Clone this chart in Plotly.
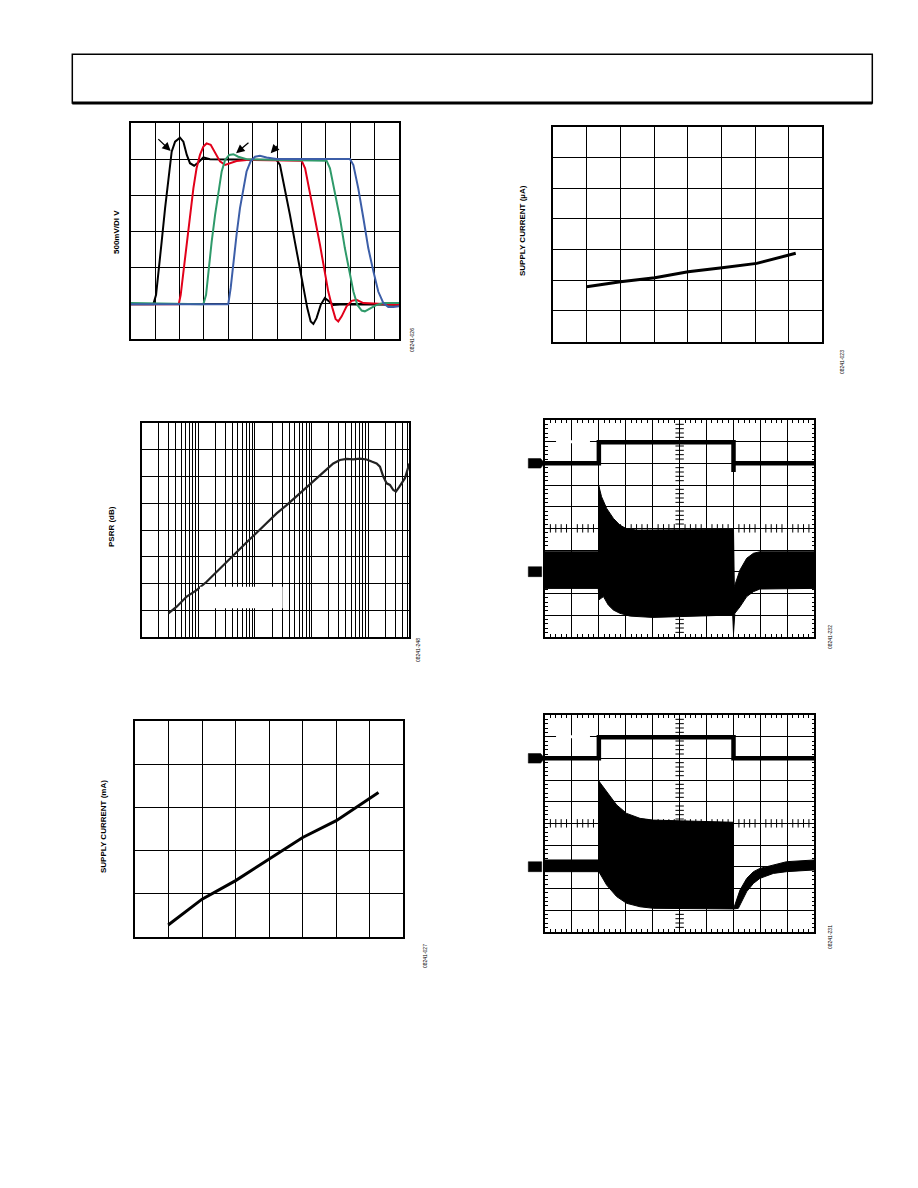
import numpy as np
import plotly.graph_objects as go

W, H = 918, 1188

# ---------------- Panel 1: large-signal pulse response (grid units: 11 x 6 div) ----------
p1_black_x = [0, 0.93, 1.04, 1.13, 1.27, 1.41, 1.54, 1.68, 1.82, 2.02, 2.16, 2.30, 2.43, 2.60, 2.77, 2.98, 3.25,
              5.98, 6.12, 6.32, 6.53, 6.73, 6.94, 7.10, 7.24, 7.38, 7.49, 7.62, 7.79, 7.96, 8.14, 8.31, 8.72, 11]
p1_black_y = [0.97, 0.97, 1.23, 1.88, 2.71, 3.64, 4.47, 5.21, 5.49, 5.60, 5.49, 5.12, 4.89, 4.82, 4.91, 5.05, 5.00,
              4.98, 4.84, 4.19, 3.45, 2.71, 1.97, 1.42, 0.86, 0.49, 0.42, 0.58, 0.95, 1.14, 1.05, 0.95, 0.97, 0.95]
p1_red_x = [0, 1.97, 2.05, 2.16, 2.30, 2.43, 2.57, 2.70, 2.84, 2.98, 3.11, 3.28, 3.46, 3.66, 3.87, 4.07, 4.34, 4.75,
            7.01, 7.15, 7.35, 7.55, 7.76, 7.92, 8.10, 8.27, 8.40, 8.51, 8.65, 8.85, 9.06, 9.26, 9.54, 11]
p1_red_y = [0.97, 0.97, 1.23, 1.88, 2.71, 3.45, 4.19, 4.75, 5.12, 5.35, 5.44, 5.40, 5.17, 4.94, 4.84, 4.89, 4.95, 4.98,
            4.96, 4.75, 4.10, 3.36, 2.62, 1.97, 1.32, 0.86, 0.56, 0.49, 0.63, 0.91, 1.06, 1.09, 1.00, 0.95]
p1_green_x = [0, 2.98, 3.09, 3.18, 3.32, 3.46, 3.59, 3.73, 3.87, 4.04, 4.21, 4.41, 4.75,
              8.03, 8.17, 8.37, 8.58, 8.78, 8.96, 9.13, 9.29, 9.47, 9.60, 9.81, 10.08, 10.36, 11]
p1_green_y = [1.00, 0.97, 1.23, 1.88, 2.71, 3.45, 4.10, 4.66, 4.98, 5.12, 5.14, 5.07, 5.00,
              4.96, 4.75, 4.10, 3.36, 2.53, 1.88, 1.32, 0.95, 0.79, 0.77, 0.84, 0.95, 1.00, 1.00]
p1_blue_x = [0, 4.00, 4.10, 4.21, 4.34, 4.48, 4.62, 4.75, 4.92, 5.10, 5.30, 5.57, 5.98,
             8.99, 9.13, 9.33, 9.54, 9.74, 9.95, 10.15, 10.36, 10.56, 10.77, 11]
p1_blue_y = [0.97, 0.97, 1.42, 2.16, 2.90, 3.64, 4.19, 4.66, 4.95, 5.07, 5.10, 5.05, 5.01,
             5.01, 4.84, 4.19, 3.36, 2.53, 1.88, 1.32, 1.00, 0.89, 0.89, 0.91]
# arrows: (tail x, tail y, head x, head y)
p1_arrows = [(1.07, 5.60, 1.64, 5.23), (4.89, 5.49, 4.32, 5.17), (6.08, 5.42, 5.74, 5.17)]

# ---------------- Panel 2: supply current (uA) (8 x 7 div) ----------
p2_x = [0.99, 2.00, 3.02, 4.01, 5.02, 6.05, 7.21]
p2_y = [1.79, 1.95, 2.08, 2.28, 2.41, 2.55, 2.88]

# ---------------- Panel 3: PSRR (dB) vs frequency (Hz) ----------
p3_freq = [29.6, 41.5, 62.2, 93.3, 140, 211, 316, 474, 713, 1070, 1607, 2410, 3620, 5430, 8160, 12250,
           18400, 24100, 31600, 41500, 54300, 71300, 93500, 114600, 140300, 160700, 184000, 210900,
           241100, 276300, 307700, 347500, 387300, 443600, 529700]
p3_psrr = [8.9, 11.4, 15.2, 17.6, 20.7, 24.5, 28.2, 31.9, 35.4, 39.0, 42.5, 46.2, 49.3, 52.7, 56.1, 59.3,
           62.6, 64.8, 66.1, 66.5, 66.3, 66.6, 66.3, 65.5, 64.8, 63.6, 59.9, 57.4,
           56.8, 54.9, 54.3, 55.9, 57.6, 59.3, 64.8]

# ---------------- Panel 4: scope capture (10 x 10 div) ----------
p4_ctrl_x = [0, 2.0, 2.0, 7.0, 7.0, 7.0, 10]
p4_ctrl_y = [8.0, 8.0, 8.97, 8.97, 7.6, 8.0, 8.0]
p4_up_x = [0, 2.0, 2.0, 2.10, 2.29, 2.54, 2.78, 3.0, 3.4, 7.0, 7.03, 7.24, 7.49, 7.74, 7.98, 10]
p4_up_y = [3.92, 3.92, 6.95, 6.46, 5.92, 5.46, 5.15, 5.0, 4.92, 4.95, 2.31, 3.08, 3.62, 3.85, 3.92, 3.92]
p4_lo_x = [0, 1.98, 2.0, 2.17, 2.35, 2.54, 2.78, 3.16, 4.0, 6.97, 7.0, 7.05, 7.24, 7.49, 7.74, 7.98, 10]
p4_lo_y = [2.23, 2.23, 1.70, 1.85, 1.46, 1.23, 1.08, 0.95, 0.89, 1.0, 0.15, 1.08, 1.38, 1.85, 2.08, 2.20, 2.23]

# ---------------- Panel 5: supply current (mA) (8 x 5 div) ----------
p5_x = [0.99, 2.00, 3.00, 4.00, 5.00, 6.00, 6.60, 7.26]
p5_y = [0.27, 0.87, 1.30, 1.79, 2.30, 2.69, 3.00, 3.34]

# ---------------- Panel 6: scope capture (10 x 10 div) ----------
p6_ctrl_x = [0, 2.0, 2.0, 7.0, 7.0, 10]
p6_ctrl_y = [8.0, 8.0, 8.97, 8.97, 8.0, 8.0]
p6_up_x = [0, 2.0, 2.0, 2.29, 2.66, 3.03, 3.53, 4.02, 7.0, 7.0, 7.24, 7.49, 7.74, 7.98, 8.48, 8.97, 10]
p6_up_y = [3.31, 3.31, 6.95, 6.46, 5.85, 5.46, 5.23, 5.15, 5.05, 1.05, 1.92, 2.46, 2.77, 2.92, 3.08, 3.23, 3.31]
p6_lo_x = [0, 2.0, 2.29, 2.66, 3.03, 3.53, 4.02, 7.0, 7.18, 7.49, 7.74, 7.98, 8.48, 8.97, 10]
p6_lo_y = [2.77, 2.77, 2.15, 1.62, 1.31, 1.15, 1.08, 1.05, 1.08, 1.85, 2.23, 2.46, 2.69, 2.77, 2.85]

# text
p1_ylabel = "500mV/DI V"
p2_ylabel = "SUPPLY CURRENT (µA)"
p3_ylabel = "PSRR (dB)"
p5_ylabel = "SUPPLY CURRENT (mA)"
codes = ["08241-026", "08241-023", "08241-248", "08241-232", "08241-027", "08241-231"]

# ---------------- layout helpers ----------
def dx(a, b):
    return [a / W, b / W]

def dy(top, bottom):
    return [1 - bottom / H, 1 - top / H]

boxes = {
    1: (130.7, 123.3, 399.0, 339.0),
    2: (553.3, 126.7, 822.3, 341.7),
    3: (141.7, 422.7, 409.3, 637.3),
    4: (545.0, 420.0, 814.3, 636.7),
    5: (135.0, 721.0, 403.3, 936.7),
    6: (545.0, 715.0, 814.3, 931.7),
}
ranges = {
    1: ([0, 11], [0, 6], 1, 1),
    2: ([0, 8], [0, 7], 1, 1),
    3: ([1, 5.724], [0, 80], "D1", 10),
    4: ([0, 10], [0, 10], 1, 1),
    5: ([0, 8], [0, 5], 1, 1),
    6: ([0, 10], [0, 10], 1, 1),
}

fig = go.Figure()
layout = dict(width=W, height=H, autosize=False, margin=dict(l=0, r=0, t=0, b=0),
              paper_bgcolor="white", plot_bgcolor="white", showlegend=False,
              font=dict(family="Liberation Sans, Arial, sans-serif", color="black"))

for i, (x0, y0, x1, y1) in boxes.items():
    xr, yr, xdt, ydt = ranges[i]
    sfx = "" if i == 1 else str(i)
    scope = i in (4, 6)
    xa = dict(domain=dx(x0, x1), range=xr, dtick=xdt, tick0=0, showgrid=True, gridcolor="black", gridwidth=1,
              showline=True, linecolor="black", linewidth=1.5, mirror="allticks" if scope else True,
              zeroline=False, showticklabels=False, anchor="y" + sfx, fixedrange=True,
              ticks="inside" if scope else "", ticklen=4, tickcolor="black")
    ya = dict(domain=dy(y0, y1), range=yr, dtick=ydt, tick0=0, showgrid=True, gridcolor="black", gridwidth=1,
              showline=True, linecolor="black", linewidth=1.5, mirror="allticks" if scope else True,
              zeroline=False, showticklabels=False, anchor="x" + sfx, fixedrange=True,
              ticks="inside" if scope else "", ticklen=4, tickcolor="black")
    if i == 3:
        xa["type"] = "log"
    if scope:
        xa["minor"] = dict(dtick=0.2, tick0=0, ticks="inside", ticklen=3, tickcolor="black", showgrid=False)
        ya["minor"] = dict(dtick=0.2, tick0=0, ticks="inside", ticklen=3, tickcolor="black", showgrid=False)
    layout["xaxis" + sfx] = xa
    layout["yaxis" + sfx] = ya

# ---------------- traces ----------
for xs, ys, col in [(p1_black_x, p1_black_y, "#000000"), (p1_red_x, p1_red_y, "#e2001a"),
                    (p1_green_x, p1_green_y, "#2f9a6a"), (p1_blue_x, p1_blue_y, "#3c5ea8")]:
    fig.add_trace(go.Scatter(x=xs, y=ys, mode="lines", line=dict(color=col, width=2), xaxis="x", yaxis="y"))

fig.add_trace(go.Scatter(x=p2_x, y=p2_y, mode="lines", line=dict(color="black", width=3), xaxis="x2", yaxis="y2"))
fig.add_trace(go.Scatter(x=p3_freq, y=p3_psrr, mode="lines", line=dict(color="#222222", width=2.2),
                         xaxis="x3", yaxis="y3"))
fig.add_trace(go.Scatter(x=p5_x, y=p5_y, mode="lines", line=dict(color="black", width=3), xaxis="x5", yaxis="y5"))

minor_pos = [v for v in np.arange(0.2, 10, 0.2) if abs(v - round(v)) > 0.05]
for sfx, upx, upy, lox, loy, cx, cy in [("4", p4_up_x, p4_up_y, p4_lo_x, p4_lo_y, p4_ctrl_x, p4_ctrl_y),
                                         ("6", p6_up_x, p6_up_y, p6_lo_x, p6_lo_y, p6_ctrl_x, p6_ctrl_y)]:
    # center-line graticule ticks
    fig.add_trace(go.Scatter(x=[5] * len(minor_pos), y=minor_pos, mode="markers",
                             marker=dict(symbol="line-ew", size=6, line=dict(color="black", width=1)),
                             xaxis="x" + sfx, yaxis="y" + sfx))
    fig.add_trace(go.Scatter(x=minor_pos, y=[5] * len(minor_pos), mode="markers",
                             marker=dict(symbol="line-ns", size=6, line=dict(color="black", width=1)),
                             xaxis="x" + sfx, yaxis="y" + sfx))
    fig.add_trace(go.Scatter(x=list(upx) + list(lox)[::-1], y=list(upy) + list(loy)[::-1], mode="lines",
                             fill="toself", fillcolor="black", line=dict(color="black", width=1),
                             xaxis="x" + sfx, yaxis="y" + sfx))
    fig.add_trace(go.Scatter(x=cx, y=cy, mode="lines", line=dict(color="black", width=4.5),
                             xaxis="x" + sfx, yaxis="y" + sfx))

# ---------------- shapes ----------
shapes = []
# page header box
shapes.append(dict(type="rect", xref="paper", yref="paper", x0=72.3 / W, x1=872.3 / W,
                   y0=1 - 103.0 / H, y1=1 - 54.3 / H, line=dict(color="black", width=1.5)))
shapes.append(dict(type="line", xref="paper", yref="paper", x0=72.3 / W, x1=872.3 / W,
                   y0=1 - 103.0 / H, y1=1 - 103.0 / H, line=dict(color="black", width=3)))
# blank legend area in PSRR grid
shapes.append(dict(type="rect", xref="paper", yref="paper", x0=200 / W, x1=282.7 / W,
                   y0=1 - 608.3 / H, y1=1 - 586.7 / H, fillcolor="white", line=dict(width=0), layer="above"))

def px(v):
    return v / W

for sfx in ("4", "6"):
    # channel markers on left edge of scope screens
    y1c = 8.0
    shapes.append(dict(type="path", xref="paper", yref="y" + sfx,
                       path=f"M {px(528.3)} {y1c - 0.22} L {px(540.7)} {y1c - 0.22} L {px(544.5)} {y1c} "
                            f"L {px(540.7)} {y1c + 0.22} L {px(528.3)} {y1c + 0.22} Z",
                       fillcolor="black", line=dict(color="black", width=0.5)))
    y2c = 3.0
    shapes.append(dict(type="rect", xref="paper", yref="y" + sfx, x0=px(528.3), x1=px(541.7),
                       y0=y2c - 0.23, y1=y2c + 0.23, fillcolor="black", line=dict(color="black", width=0.5)))
    # gap in graticule near top-left
    shapes.append(dict(type="rect", xref="x" + sfx, yref="y" + sfx, x0=0.41, x1=1.67, y0=8.93, y1=9.07,
                       fillcolor="white", line=dict(width=0), layer="between"))

layout["shapes"] = shapes

# ---------------- annotations ----------
ann = []
for tx, ty, hx, hy in p1_arrows:
    ann.append(dict(x=hx, y=hy, ax=tx, ay=ty, xref="x", yref="y", axref="x", ayref="y", text="",
                    showarrow=True, arrowhead=2, arrowsize=1.3, arrowwidth=1.3, arrowcolor="black"))

def vlabel(text, xpx, ypx, size=8, bold=True):
    t = f"<b>{text}</b>" if bold else text
    return dict(x=xpx / W, y=1 - ypx / H, xref="paper", yref="paper", text=t, showarrow=False,
                textangle=-90, font=dict(size=size, family="Liberation Sans, Arial, sans-serif", color="black"),
                xanchor="center", yanchor="middle")

ann.append(vlabel(p1_ylabel, 116, 232))
ann.append(vlabel(p2_ylabel, 523, 231))
ann.append(vlabel(p3_ylabel, 112, 527))
ann.append(vlabel(p5_ylabel, 103, 827))
for code, (cxp, cyp) in zip(codes, [(412, 340), (842, 362), (418, 650), (830, 637), (425, 956), (830, 937)]):
    ann.append(vlabel(code, cxp, cyp, size=5, bold=False))

layout["annotations"] = ann
fig.update_layout(**layout)

fig.write_html("out.html", config={"displayModeBar": False},
               post_script="document.body.style.margin='0';document.body.style.overflow='hidden';")
